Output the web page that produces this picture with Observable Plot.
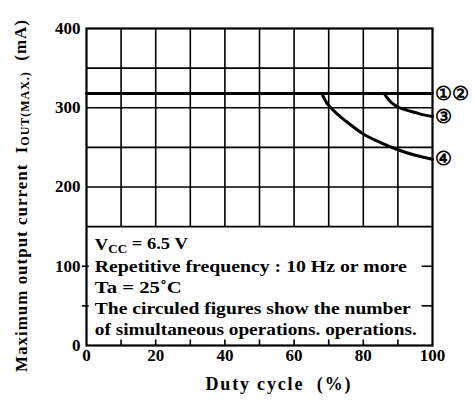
<!DOCTYPE html>
<html>
<head>
<meta charset="utf-8">
<script src="https://cdn.jsdelivr.net/npm/d3@7"></script>
<script src="https://cdn.jsdelivr.net/npm/@observablehq/plot@0.6"></script>
<style>
  html, body { margin: 0; padding: 0; background: #fff; }
  #chart { width: 474px; height: 402px; }
</style>
</head>
<body>
<div id="chart"></div>
<script>
// ---- data ----
const duty12 = [0, 100];
const current12 = [318, 318];

const duty3 = [86, 87, 88, 90, 92.5, 95, 97.5, 100];
const current3 = [318, 312, 307, 301, 297, 294, 291, 289];

const duty4 = [68, 69, 70, 72.5, 75, 80, 85, 90, 95, 100];
const current4 = [318, 309, 303, 292, 283, 267, 256, 247, 240, 235];

const seriesLabels = ["①②", "③", "④"];
const xTicks = [0, 20, 40, 60, 80, 100];
const yTicks = [0, 100, 200, 300, 400];
const noteLines = [
  "VCC = 6.5 V",
  "Repetitive frequency : 10 Hz or more",
  "Ta = 25˚C",
  "The circuled figures show the number",
  "of simultaneous operations. operations."
];
const xLabel = "Duty cycle  (%)";

// ---- build ----
const s12 = duty12.map((x, i) => ({x, y: current12[i]}));
const s3 = duty3.map((x, i) => ({x, y: current3[i]}));
const s4 = duty4.map((x, i) => ({x, y: current4[i]}));
const ends = [s12, s3, s4].map((s, i) => ({...s[s.length - 1], label: seriesLabels[i]}));

const gridX = d3.range(10, 100, 10);
const gridY = d3.range(150, 400, 50);
const serif = "'Liberation Serif', 'DejaVu Serif', serif";

const chart = Plot.plot({
  width: 474,
  height: 402,
  marginLeft: 86,
  marginRight: 42,
  marginTop: 28,
  marginBottom: 57,
  style: {fontFamily: serif, fontWeight: "bold", fontSize: "17px", color: "#000", background: "#fff", overflow: "visible"},
  x: {domain: [0, 100], ticks: xTicks, tickSize: 0, tickPadding: 3, label: null},
  y: {domain: [0, 400], ticks: yTicks, tickSize: 0, tickPadding: 6, label: null},
  marks: [
    Plot.ruleX(gridX, {y1: 150, y2: 400, stroke: "#000", strokeWidth: 1.6}),
    Plot.ruleY(gridY, {stroke: "#000", strokeWidth: 1.6}),
    Plot.ruleX(gridX, {y1: 0, y2: 7, stroke: "#000", strokeWidth: 1.6}),
    Plot.ruleY([50, 100], {x1: 97, x2: 100, stroke: "#000", strokeWidth: 1.6}),
    Plot.ruleY([50, 100], {x1: -1.2, x2: 0.8, stroke: "#000", strokeWidth: 1.6}),
    Plot.frame({stroke: "#000", strokeWidth: 2.2}),
    Plot.line(s12, {x: "x", y: "y", stroke: "#000", strokeWidth: 2.8}),
    Plot.line(s3, {x: "x", y: "y", stroke: "#000", strokeWidth: 3, curve: "monotone-x"}),
    Plot.line(s4, {x: "x", y: "y", stroke: "#000", strokeWidth: 3, curve: "monotone-x"}),
    Plot.text(ends, {x: "x", y: "y", text: "label", dx: 2, textAnchor: "start", fontSize: 19, fontFamily: "'DejaVu Serif', serif", fontWeight: "bold"}),
    Plot.text(noteLines, {x: 2.4, y: (d, i) => 127 - i * 26.8, text: d => d, textAnchor: "start", fontSize: 17})
  ]
});

const svg = d3.select(chart);
// note line widths as drawn in the reference
const noteWidths = [93, 312, 87, 316, 322];
svg.selectAll("text").each(function() {
  const t = d3.select(this);
  const idx = noteLines.indexOf(this.textContent);
  if (idx < 0) return;
  t.attr("textLength", noteWidths[idx]).attr("lengthAdjust", "spacingAndGlyphs");
  if (idx === 0) {
    t.text(null);
    t.append("tspan").text("V");
    t.append("tspan").attr("font-size", 12).attr("dy", "0.25em").text("CC");
    t.append("tspan").attr("dy", "-0.25em").text(" = 6.5 V");
  }
});

// y axis label
const yl = svg.append("text")
  .attr("transform", "translate(27,372) rotate(-90)")
  .attr("font-family", serif)
  .attr("font-weight", "bold")
  .attr("font-size", 17)
  .attr("text-anchor", "start")
  .attr("textLength", 352)
  .attr("lengthAdjust", "spacing");
yl.append("tspan").text("Maximum output current  I");
yl.append("tspan").attr("font-size", 12).attr("dy", "0.2em").text("OUT(MAX.)");
yl.append("tspan").attr("dy", "-0.2em").text("  (mA)");

// x axis label
svg.append("text")
  .attr("x", 278).attr("y", 390)
  .attr("font-family", serif)
  .attr("font-weight", "bold")
  .attr("font-size", 18)
  .attr("text-anchor", "middle")
  .attr("textLength", 145)
  .attr("lengthAdjust", "spacing")
  .text(xLabel);

document.getElementById("chart").appendChild(chart);
</script>
</body>
</html>
